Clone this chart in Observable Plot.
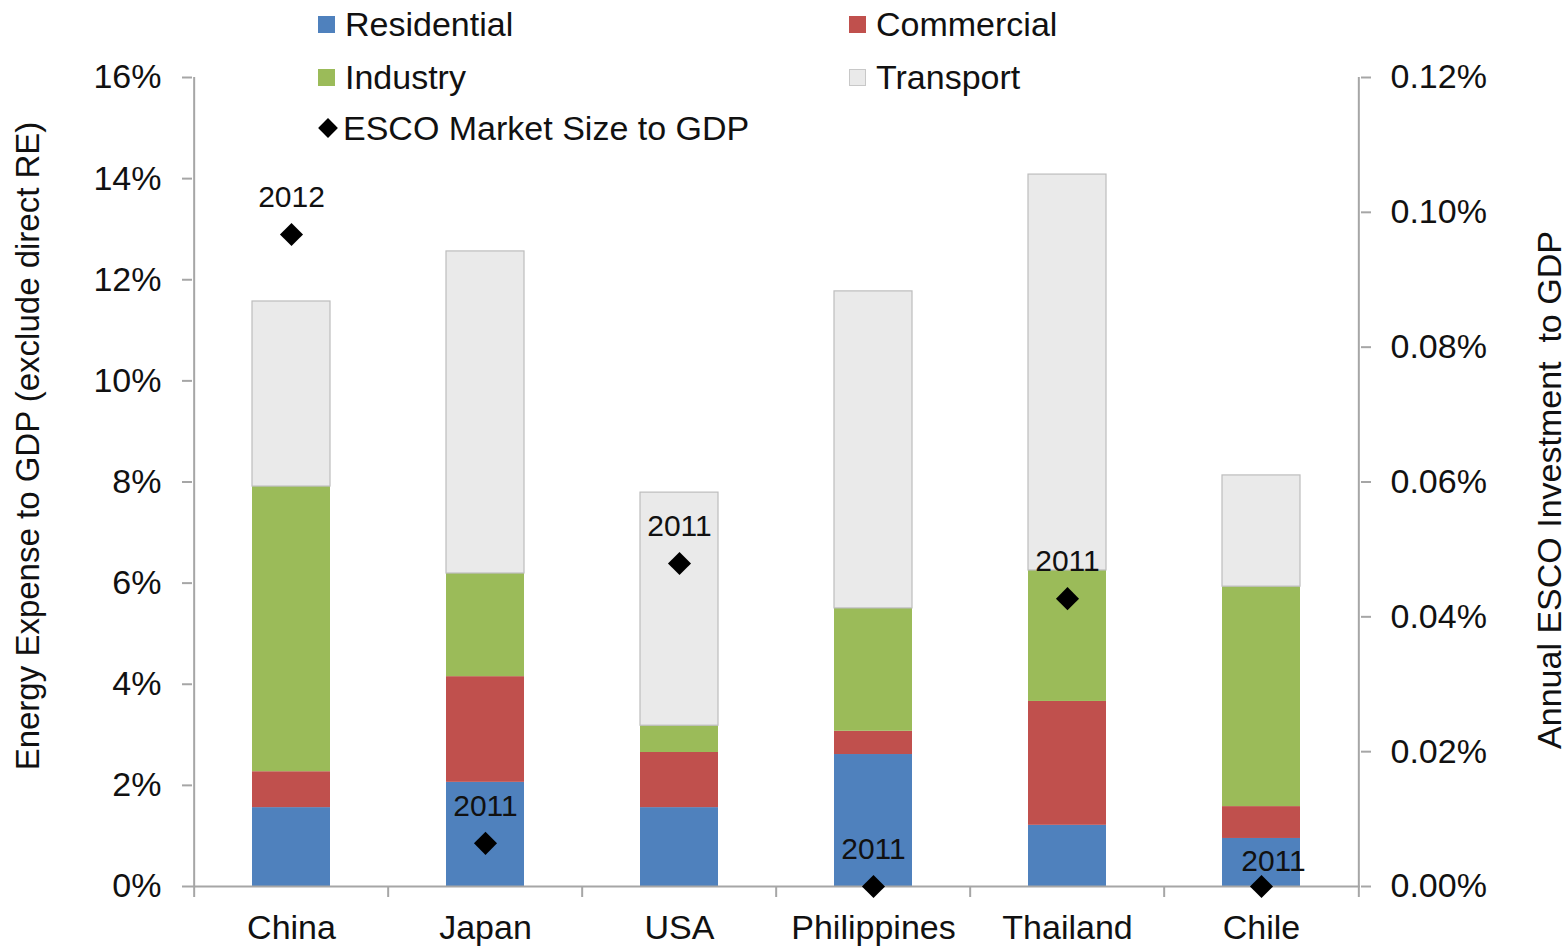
<!DOCTYPE html>
<html><head><meta charset="utf-8">
<script src="https://cdn.jsdelivr.net/npm/d3@7"></script>
<script src="https://cdn.jsdelivr.net/npm/@observablehq/plot@0.6"></script>
<style>
body{margin:0;background:#fff;font-family:"Liberation Sans",Arial,sans-serif;color:#111;}
#wrap{position:relative;width:1568px;height:946px;overflow:hidden;}
#legend{position:absolute;left:0;top:0;width:1568px;height:0;}
.item{position:absolute;display:flex;align-items:center;font-size:34px;line-height:40px;white-space:nowrap;}
.sw{width:17px;height:17px;margin-right:10px;box-sizing:border-box;}
.dia{width:14px;height:14px;background:#000;transform:rotate(45deg);margin:0 8px 0 3px;}
</style></head><body><div id="wrap"><div id="legend"></div></div>
<script>
const countries = ["China","Japan","USA","Philippines","Thailand","Chile"];
const sectors = ["Residential","Commercial","Industry","Transport"];
const residential = [1.56,2.06,1.56,2.61,1.21,0.95];
const commercial  = [0.71,2.09,1.09,0.46,2.45,0.63];
const industry    = [5.64,2.04,0.53,2.43,2.59,4.35];
const transport   = [3.66,6.37,4.61,6.27,7.83,2.20];
const escoShare   = [0.0967,0.0064,0.0479,0.0,0.0427,0.0];
const escoYear    = ["2012","2011","2011","2011","2011","2011"];
const leftTicks   = [0,2,4,6,8,10,12,14,16];
const rightTicks  = [0,0.02,0.04,0.06,0.08,0.10,0.12];
const sectorColors = ["#4f81bd","#c0504d","#9bbb59","#eaeaea"];
const escoLabel = "ESCO Market Size to GDP";
const leftTitle = "Energy Expense to GDP (exclude direct RE)";
const rightTitle = "Annual ESCO Investment\u00a0 to GDP";

const leftMax = leftTicks[leftTicks.length-1];
const rightMax = rightTicks[rightTicks.length-1];
const ratio = leftMax / rightMax;

const W = 1568, H = 946;
const mL = 192, mR = 208, mT = 77, mB = 60;
const padInner = 0.6, padOuter = 0.3;
const step = (W - mL - mR) / (countries.length - padInner + 2*padOuter);

const seriesVals = [residential, commercial, industry, transport];
const rows = [];
sectors.forEach((s, si) => countries.forEach((c, ci) => rows.push({country:c, sector:s, value:seriesVals[si][ci]})));
const esco = countries.map((c,i) => ({country:c, esco:escoShare[i], year:escoYear[i]}));
const lastC = countries[countries.length-1];

const axisColor = "#a6a6a6";

const chart = Plot.plot({
  width: W, height: H,
  marginLeft: mL, marginRight: mR, marginTop: mT, marginBottom: mB,
  style: {fontFamily: "'Liberation Sans', Arial, sans-serif", fontSize: "34px", color: "#111", background: "#fff"},
  x: {domain: countries, paddingInner: padInner, paddingOuter: padOuter, label: null},
  y: {domain: [0, leftMax], label: null},
  color: {domain: sectors, range: sectorColors},
  marks: [
    Plot.barY(rows, {x: "country", y: "value", fill: "sector",
      stroke: "#bdbdbd", strokeWidth: 1.2,
      strokeOpacity: d => d.sector === "Transport" ? 1 : 0}),
    // axis lines
    Plot.ruleY([0], {stroke: axisColor, strokeWidth: 2}),
    Plot.ruleX([countries[0]], {x: d => d, dx: -step/2, stroke: axisColor, strokeWidth: 2}),
    Plot.ruleX([lastC], {x: d => d, dx: step/2, stroke: axisColor, strokeWidth: 2}),
    // category boundary ticks
    Plot.ruleX(countries, {x: d => d, y1: 0, y2: 0, insetBottom: -11, dx: -step/2, stroke: axisColor, strokeWidth: 2}),
    Plot.ruleX([lastC], {x: d => d, y1: 0, y2: 0, insetBottom: -11, dx: step/2, stroke: axisColor, strokeWidth: 2}),
    Plot.axisY({anchor: "left", ticks: leftTicks, tickFormat: d => d + "%", tickSize: 10, tickPadding: 21,
      stroke: axisColor, strokeWidth: 2, fill: "#111", fontSize: 34, label: null}),
    Plot.axisY({anchor: "right", ticks: rightTicks.map(v => v * ratio), tickFormat: d => (d / ratio).toFixed(2) + "%",
      tickSize: 10, tickPadding: 20, stroke: axisColor, strokeWidth: 2, fill: "#111", fontSize: 34, label: null}),
    Plot.axisX({tickSize: 0, tickPadding: 28, fill: "#111", fontSize: 34, label: null}),
    Plot.dot(esco, {x: "country", y: d => d.esco * ratio, symbol: "diamond2", r: 10.4, fill: "#000", stroke: "none"}),
    Plot.text(esco.filter(d => d.country !== lastC), {x: "country", y: d => d.esco * ratio, text: "year", dy: -37, fontSize: 30, fill: "#111"}),
    Plot.text(esco.filter(d => d.country === lastC), {x: "country", y: d => d.esco * ratio, text: "year", dy: -25, dx: 12, fontSize: 30, fill: "#111"}),
    Plot.text([leftTitle], {frameAnchor: "left", textAnchor: "middle", text: d => d, rotate: -90, dx: -164, dy: -36, fontSize: 33, fill: "#111"}),
    Plot.text([rightTitle], {frameAnchor: "right", textAnchor: "middle", text: d => d, rotate: -90, dx: 190, dy: 8, fontSize: 34, fill: "#111"})
  ]
});
document.getElementById("wrap").appendChild(chart);
chart.style.position = "absolute"; chart.style.left = "0"; chart.style.top = "0";

// legend
const legend = document.getElementById("legend");
const legendItems = [
  {label: sectors[0], color: sectorColors[0], col: 0, row: 0},
  {label: sectors[1], color: sectorColors[1], col: 1, row: 0},
  {label: sectors[2], color: sectorColors[2], col: 0, row: 1},
  {label: sectors[3], color: sectorColors[3], col: 1, row: 1},
  {label: escoLabel, diamond: true, col: 0, row: 2}
];
const colX = [318, 849], rowY = [24, 77, 128];
legendItems.forEach(it => {
  const d = document.createElement("div");
  d.className = "item";
  d.style.left = colX[it.col] + "px";
  d.style.top = (rowY[it.row] - 20) + "px";
  const m = document.createElement("span");
  if (it.diamond) { m.className = "dia"; }
  else { m.className = "sw"; m.style.background = it.color; if (it.label === "Transport") m.style.border = "1px solid #c8c8c8"; }
  d.appendChild(m);
  const t = document.createElement("span");
  t.textContent = it.label;
  d.appendChild(t);
  legend.appendChild(d);
});
legend.style.zIndex = 2; legend.style.position = "absolute";
</script>
</body></html>
